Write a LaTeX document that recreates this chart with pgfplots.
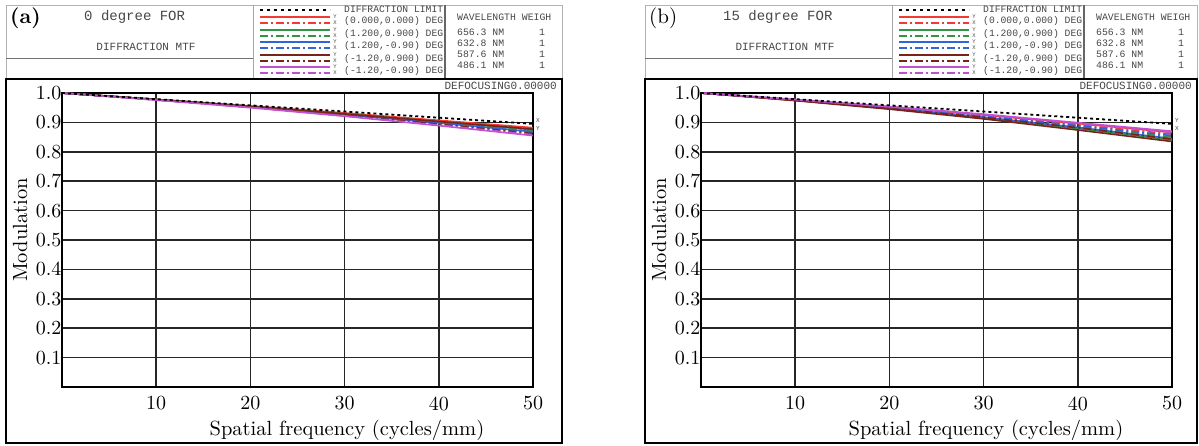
\documentclass[border=0pt]{standalone}
\usepackage{fontspec}
\setmonofont{Liberation Mono}
\newfontfamily\axfont{lmroman10-regular.otf}
\newfontfamily\axfontb{lmroman10-bold.otf}
\usepackage{pgfplots}
\usepackage{pgfplotstable}
\pgfplotsset{compat=1.18}

\definecolor{mred}{RGB}{240,60,50}
\definecolor{mgreen}{RGB}{50,150,70}
\definecolor{mblue}{RGB}{50,100,215}
\definecolor{mbrown}{RGB}{120,35,25}
\definecolor{mpurple}{RGB}{195,80,210}
\definecolor{htext}{RGB}{70,70,70}

% MTF, 0 degree field
\pgfplotstableread{
f  DL    rT    rS    gT    gS    bT    bS    nT    nS    pT    pS
0  1     1     1     1     1     1     1     1     1     1     1
10 0.979 0.978 0.978 0.978 0.978 0.977 0.977 0.978 0.977 0.976 0.976
20 0.958 0.956 0.955 0.955 0.954 0.953 0.952 0.954 0.952 0.950 0.951
30 0.937 0.932 0.930 0.929 0.928 0.926 0.925 0.929 0.924 0.921 0.922
40 0.916 0.907 0.904 0.902 0.900 0.898 0.896 0.903 0.894 0.889 0.891
50 0.895 0.882 0.878 0.875 0.872 0.868 0.865 0.877 0.862 0.855 0.858
}\tabA

% MTF, 15 degree field
\pgfplotstableread{
f  DL    rT    rS    gT    gS    bT    bS    nT    nS    pT    pS
0  1     1     1     1     1     1     1     1     1     1     1
10 0.979 0.977 0.976 0.975 0.976 0.976 0.977 0.974 0.975 0.978 0.977
20 0.958 0.953 0.951 0.947 0.949 0.949 0.951 0.945 0.948 0.954 0.953
30 0.937 0.925 0.922 0.915 0.919 0.918 0.921 0.912 0.917 0.928 0.926
40 0.916 0.896 0.892 0.879 0.886 0.883 0.889 0.874 0.882 0.899 0.897
50 0.895 0.866 0.860 0.840 0.850 0.845 0.855 0.835 0.843 0.870 0.866
}\tabB

\tikzset{
  dd/.style={dash pattern=on 8pt off 3pt on 2pt off 3pt},
  mono/.style={font=\ttfamily\fontsize{#1}{#1}\selectfont, text=htext, inner sep=0pt},
}

\pgfplotsset{mtf/.style={
  scale only axis, width=471pt, height=294pt,
  xmin=0, xmax=50, ymin=0, ymax=1,
  xtick={10,20,30,40,50},
  ytick={0.1,0.2,0.3,0.4,0.5,0.6,0.7,0.8,0.9,1.0},
  grid=major, major grid style={black!85, line width=1.7pt},
  axis line style={black, line width=1.8pt},
  major tick length=0pt,
  tick label style={font=\axfont\fontsize{20}{24}\selectfont},
  xticklabel style={yshift=-6pt},
  yticklabel style={xshift=3pt},
  xlabel={Spatial frequency (cycles/mm)},
  ylabel={Modulation},
  label style={font=\axfont\fontsize{20.5}{24}\selectfont},
  xlabel style={at={(axis description cs:0.605,-0.146)}, anchor=center},
  ylabel style={at={(axis description cs:-0.089,0.534)}, anchor=center},
  every axis plot/.append style={line width=1.6pt},
  /pgf/number format/assume math mode=true,
  yticklabel style={/pgf/number format/.cd, fixed, fixed zerofill, precision=1},
}}

% one legend row: colour, y of solid line, y of dash-dot line, y of text, text
\newcommand\legrow[5]{%
  \draw[#1, line width=2pt] (260,#2) -- (330,#2);
  \draw[#1, line width=2pt, dd] (260,#3) -- (330,#3);
  \node[mono=5.5] at (335,#2) {Y};
  \node[mono=5.5] at (335,#3) {X};
  \node[mono=9.7, anchor=west] at (344,#4) {#5};
}

% header box and frame of one panel
\newcommand\panelhead[5]{%
\begin{scope}[shift={(#1pt,0pt)}, x=1pt, y=-1pt]
  \draw[gray!60, line width=0.9pt] (6,5) rectangle (#5,79);
  \draw[gray!70, line width=0.9pt] (253,5) -- (253,79);
  \draw[gray!90!black, line width=0.9pt] (6,58) -- (253,58);
  \draw[gray!80!black, line width=1.5pt] (445,5) -- (445,79);
  \node[anchor=west, inner sep=0pt, font=#2\fontsize{21}{21}\selectfont] at (10,18) {#3};
  \node[mono=14, anchor=west] at (84,17) {#4};
  \node[mono=11] at (146,47) {DIFFRACTION MTF};
  % legend
  \draw[black, line width=2pt, dash pattern=on 3pt off 4pt] (260,10) -- (330,10);
  \node[mono=9.7, anchor=west] at (344,9) {DIFFRACTION LIMIT};
  \legrow{mred}{17}{23}{21}{(0.000,0.000) DEG}
  \legrow{mgreen}{30}{36}{33.5}{(1.200,0.900) DEG}
  \legrow{mblue}{42}{48}{46}{(1.200,-0.90) DEG}
  \legrow{mbrown}{55}{61}{58.5}{(-1.20,0.900) DEG}
  \legrow{mpurple}{67}{73}{71}{(-1.20,-0.90) DEG}
  % wavelengths
  \node[mono=9.8, anchor=west] at (457,17) {WAVELENGTH WEIGH};
  \node[mono=9.8, anchor=west] at (457,32) {656.3 NM};
  \node[mono=9.8, anchor=west] at (457,43) {632.8 NM};
  \node[mono=9.8, anchor=west] at (457,54) {587.6 NM};
  \node[mono=9.8, anchor=west] at (457,65) {486.1 NM};
  \node[mono=9.8] at (542,32) {1};
  \node[mono=9.8] at (542,43) {1};
  \node[mono=9.8] at (542,54) {1};
  \node[mono=9.8] at (542,65) {1};
  \node[mono=11, anchor=east] at (#5-5,86) {DEFOCUSING0.00000};
  \draw[black, line width=2.5pt] (6,79) rectangle (#5,443);
\end{scope}}

\newcommand\curves[1]{%
  \addplot[mred] table[x=f,y=rT] {#1};
  \addplot[mred, dd] table[x=f,y=rS] {#1};
  \addplot[mgreen] table[x=f,y=gT] {#1};
  \addplot[mgreen, dd] table[x=f,y=gS] {#1};
  \addplot[mblue] table[x=f,y=bT] {#1};
  \addplot[mblue, dd] table[x=f,y=bS] {#1};
  \addplot[mbrown] table[x=f,y=nT] {#1};
  \addplot[mbrown, dd] table[x=f,y=nS] {#1};
  \addplot[mpurple] table[x=f,y=pT] {#1};
  \addplot[mpurple, dd] table[x=f,y=pS] {#1};
  \addplot[black, line width=1.8pt, dash pattern=on 3pt off 3pt] table[x=f,y=DL] {#1};
}

\begin{document}
\begin{tikzpicture}
\path[use as bounding box] (0pt,0pt) rectangle (1199pt,-446pt);

\panelhead{0}{\axfontb}{(a)}{0 degree FOR}{562}
\panelhead{639}{\axfont}{(b)}{15 degree FOR}{558}

\begin{axis}[mtf, at={(62pt,-387pt)}, anchor=south west]
  \curves{\tabA}
\end{axis}

\begin{axis}[mtf, at={(701pt,-387pt)}, anchor=south west]
  \curves{\tabB}
\end{axis}

\begin{scope}[x=1pt, y=-1pt]
  \node[mono=6] at (538,121) {X};
  \node[mono=6] at (538,129) {Y};
  \node[mono=6] at (1177,121) {Y};
  \node[mono=6] at (1177,129) {X};
\end{scope}
\end{tikzpicture}
\end{document}
